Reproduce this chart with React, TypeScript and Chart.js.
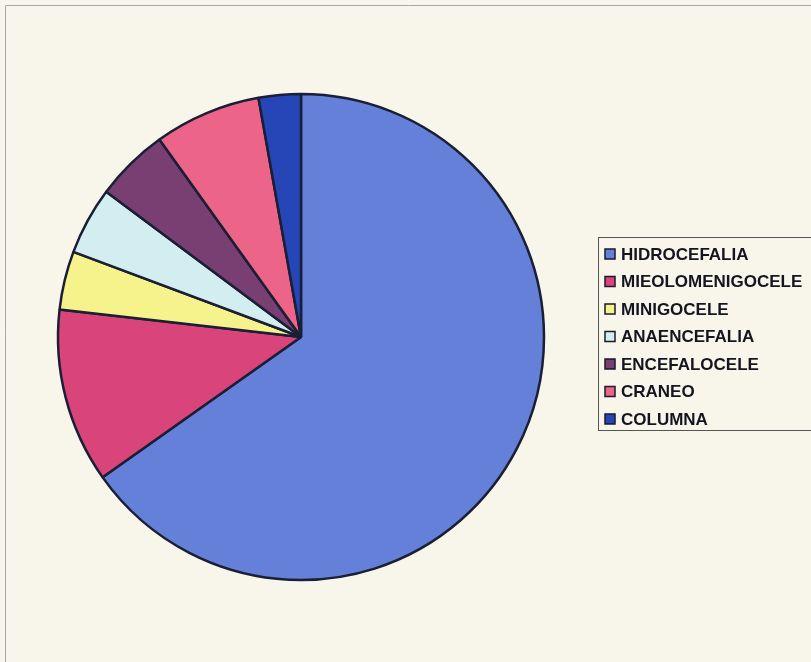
import React, { useEffect, useRef } from "react";
import { Chart, registerables } from "chart.js";

Chart.register(...registerables);

const categories = [
  "HIDROCEFALIA",
  "MIEOLOMENIGOCELE",
  "MINIGOCELE",
  "ANAENCEFALIA",
  "ENCEFALOCELE",
  "CRANEO",
  "COLUMNA",
];
const values = [65.2, 11.6, 3.9, 4.5, 4.9, 7.1, 2.8];
const colors = ["#6480D8", "#D9457A", "#F7F38C", "#D3EEF0", "#7A3F72", "#EC6488", "#2646B8"];

const legendBoxPlugin = {
  id: "legendBox",
  beforeDraw(chart: any) {
    const ctx = chart.ctx;
    ctx.save();
    ctx.fillStyle = "#F8F6EB";
    ctx.fillRect(0, 0, chart.width, chart.height);
    ctx.strokeStyle = "#A8A8A8";
    ctx.lineWidth = 1;
    ctx.beginPath();
    ctx.moveTo(5.5, chart.height);
    ctx.lineTo(5.5, 5.5);
    ctx.lineTo(chart.width, 5.5);
    ctx.stroke();
    ctx.restore();
  },
  afterDraw(chart: any) {
    const ctx = chart.ctx;
    const labels = chart.data.labels as string[];
    const bg = chart.data.datasets[0].backgroundColor as string[];
    ctx.save();
    ctx.strokeStyle = "#555555";
    ctx.lineWidth = 1;
    ctx.strokeRect(598.5, 237.5, 230, 193);
    ctx.font = "bold 17px 'Liberation Sans', Arial, sans-serif";
    ctx.textBaseline = "middle";
    labels.forEach((lab, i) => {
      const y = 254 + i * 27.5;
      ctx.fillStyle = bg[i];
      ctx.fillRect(605, y - 5, 10, 10);
      ctx.strokeStyle = "#1A1A2A";
      ctx.lineWidth = 1.5;
      ctx.strokeRect(605, y - 5, 10, 10);
      ctx.fillStyle = "#15151F";
      ctx.fillText(lab, 621, y + 1);
    });
    ctx.restore();
  },
};

export default function App() {
  const ref = useRef<HTMLCanvasElement>(null);
  useEffect(() => {
    if (!ref.current) return;
    const chart = new Chart(ref.current, {
      type: "pie",
      data: {
        labels: categories,
        datasets: [
          {
            data: values,
            backgroundColor: colors,
            borderColor: "#1A1F35",
            borderWidth: 2.5,
            radius: 243,
          } as any,
        ],
      },
      options: {
        responsive: false,
        animation: false,
        layout: { padding: { left: 58, right: 267, top: 94, bottom: 82 } },
        plugins: {
          legend: { display: false },
          tooltip: { enabled: false },
        },
      },
      plugins: [legendBoxPlugin],
    });
    return () => chart.destroy();
  }, []);
  return (
    <div style={{ position: "fixed", left: 0, top: 0, width: 811, height: 662 }}>
      <canvas ref={ref} width={811} height={662} style={{ width: 811, height: 662 }} />
    </div>
  );
}
